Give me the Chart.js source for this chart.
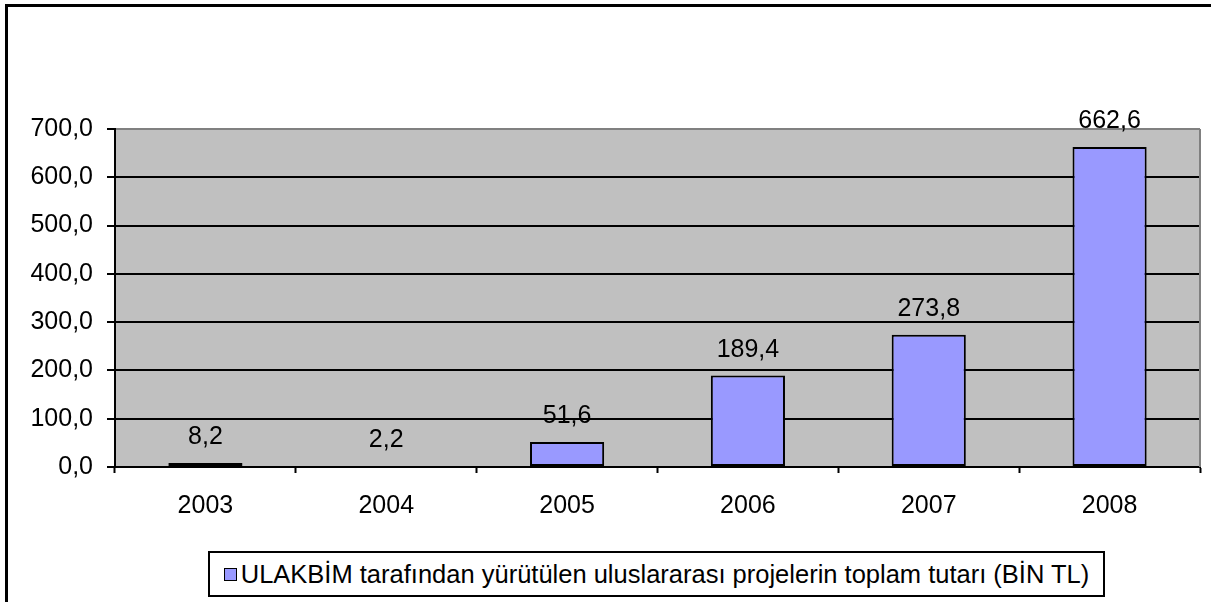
<!DOCTYPE html>
<html>
<head>
<meta charset="utf-8">
<script src="https://cdn.jsdelivr.net/npm/chart.js@4"></script>
<style>
    body { margin: 0; background: #fff; font-family: "Liberation Sans", Arial, sans-serif; }
    #wrap { position: relative; width: 1211px; height: 602px; overflow: hidden; }
    #frame { position: absolute; left: 5px; top: 4px; width: 1400px; height: 800px; border: 3px solid #000; pointer-events: none; }
    #legend { position: absolute; left: 208px; top: 551px; width: 893px; height: 42px; border: 2px solid #000;
              display: flex; align-items: center; justify-content: center; font-size: 25.5px; color: #000; background: #fff; white-space: nowrap; }
    #legend span.box { display: inline-block; width: 11px; height: 11px; background: #9999FF; border: 1.5px solid #000; margin-right: 4px; }
</style>
</head>
<body>
<div id="wrap">
    <canvas id="barChart" width="1211" height="602"></canvas>
    <div id="frame"></div>
    <div id="legend"><span class="box"></span><span id="legendText"></span></div>
</div>
<script>
// BAR CHART

const years = ['2003', '2004', '2005', '2006', '2007', '2008'];
const amounts = [8.2, 2.2, 51.6, 189.4, 273.8, 662.6];
const seriesLabel = 'ULAKBİM tarafından yürütülen uluslararası projelerin toplam tutarı (BİN TL)';

document.getElementById('legendText').textContent = seriesLabel;

const fmt = v => Number(v).toFixed(1).replace('.', ',');
const fontFamily = '"Liberation Sans", Arial, sans-serif';

// gray plot area + value labels above bars
const plotArea = {
    id: 'plotArea',
    beforeDraw(chart) {
        const { ctx, chartArea: a } = chart;
        ctx.save();
        ctx.fillStyle = '#C0C0C0';
        ctx.fillRect(a.left, a.top, a.right - a.left, a.bottom - a.top);
        ctx.restore();
    },
    afterDraw(chart) {
        const { ctx, chartArea: a } = chart;
        ctx.save();
        ctx.strokeStyle = '#808080';
        ctx.lineWidth = 2;
        ctx.beginPath();
        ctx.moveTo(a.right, a.top);
        ctx.lineTo(a.right, a.bottom);
        ctx.stroke();

        ctx.fillStyle = '#000';
        ctx.font = '25px ' + fontFamily;
        ctx.textAlign = 'center';
        ctx.textBaseline = 'alphabetic';
        chart.getDatasetMeta(0).data.forEach((bar, i) => {
            ctx.fillText(fmt(amounts[i]), bar.x, bar.y - 19);
        });
        ctx.restore();
    }
};

const barChart = document.getElementById('barChart');

new Chart(barChart, {
    type: 'bar',
    data: {
        labels: years,
        datasets: [
            {
                label: seriesLabel,
                data: amounts,
                backgroundColor: '#9999FF',
                borderColor: '#000',
                borderWidth: 2,
                borderSkipped: false,
                barPercentage: 0.41,
                categoryPercentage: 1
            }
        ]
    },
    options: {
        responsive: false,
        animation: false,
        layout: { padding: { top: 129, right: 11, left: 0, bottom: 0 } },
        plugins: { legend: { display: false }, tooltip: { enabled: false } },
        scales: {
            x: {
                offset: true,
                afterFit: s => { s.height = 135; },
                grid: { offset: true, drawOnChartArea: false, drawTicks: true, tickLength: 6, tickColor: '#000', tickWidth: 2 },
                border: { color: '#000', width: 2 },
                ticks: { color: '#000', padding: 18, font: { size: 25, family: fontFamily } }
            },
            y: {
                min: 0,
                max: 700,
                afterFit: s => { s.width = 115; },
                grid: {
                    color: c => c.tick && c.tick.value === 700 ? '#808080' : '#000',
                    lineWidth: 2,
                    tickLength: 8,
                    tickColor: '#000',
                    tickWidth: 2
                },
                border: { color: '#000', width: 2 },
                ticks: {
                    stepSize: 100,
                    color: '#000',
                    padding: 14,
                    font: { size: 25, family: fontFamily },
                    callback: v => fmt(v)
                }
            }
        }
    },
    plugins: [plotArea]
});
</script>
</body>
</html>
